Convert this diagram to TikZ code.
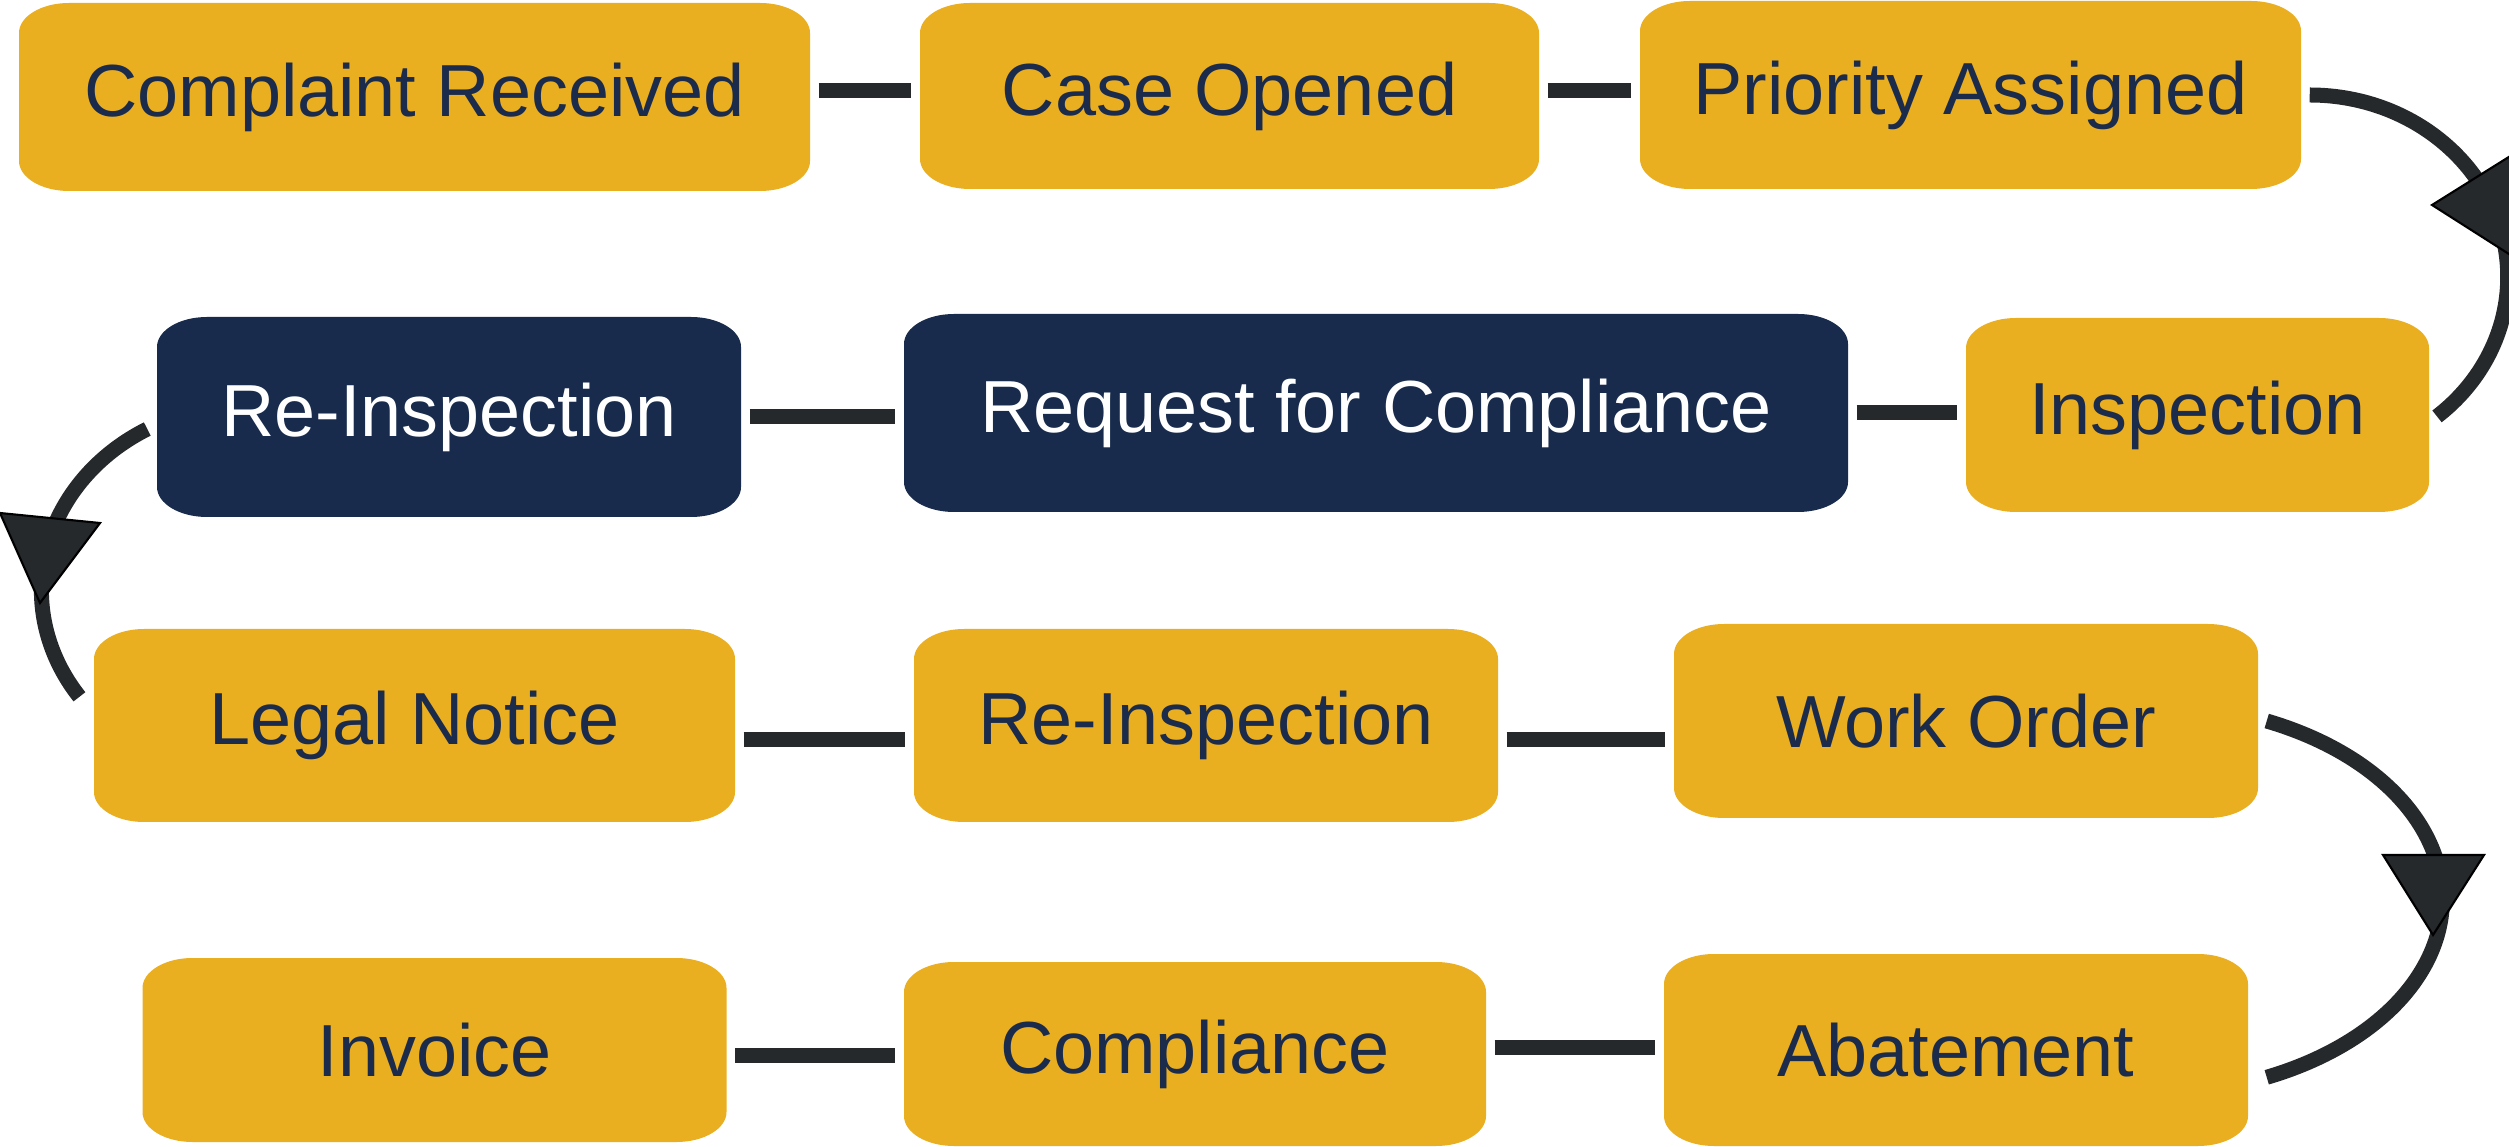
\documentclass[tikz,border=0pt]{standalone}
\usepackage{fontspec}
\setmainfont{Liberation Sans}
\definecolor{gold}{HTML}{EAAE21}
\definecolor{navy}{HTML}{182B4C}
\definecolor{ink}{HTML}{1B2B4B}
\definecolor{linegray}{HTML}{25292C}
\tikzset{
  pill/.style={inner sep=0pt, font=\fontsize{21}{25}\selectfont,
    path picture={\fill[#1] ([xshift=5mm]path picture bounding box.south west) -- ([xshift=-5mm]path picture bounding box.south east)
      arc[start angle=-90,end angle=0,x radius=5mm,y radius=3mm] -- ([yshift=-3mm]path picture bounding box.north east)
      arc[start angle=0,end angle=90,x radius=5mm,y radius=3mm] -- ([xshift=5mm]path picture bounding box.north west)
      arc[start angle=90,end angle=180,x radius=5mm,y radius=3mm] -- ([yshift=3mm]path picture bounding box.south west)
      arc[start angle=180,end angle=270,x radius=5mm,y radius=3mm] -- cycle;}},
  stage/.style={pill=gold, text=ink},
  keystage/.style={pill=navy, text=white},
  link/.style={draw=linegray, line width=0.15cm, shorten <=0.08cm, shorten >=0.08cm},
  flow/.style={draw=linegray, line width=0.15cm},
  tipmark/.style={fill=linegray, draw=black, line width=0.6pt, line join=miter}
}
\begin{document}
\begin{tikzpicture}[line join=round]
	\useasboundingbox (0,0) rectangle (25.09,-11.47);
	% row 1
	\node[stage, minimum width=7.91cm, minimum height=1.88cm] (cr) at (4.145,-0.97) {Complaint Received};
	\node[stage, minimum width=6.19cm, minimum height=1.86cm] (co) at (12.295,-0.96) {Case Opened};
	\node[stage, minimum width=6.61cm, minimum height=1.88cm] (pa) at (19.705,-0.95) {Priority Assigned};
	% row 2
	\node[keystage, minimum width=5.84cm, minimum height=2.00cm] (rin) at (4.49,-4.17) {Re-Inspection};
	\node[keystage, minimum width=9.44cm, minimum height=1.98cm] (rfc) at (13.76,-4.13) {Request for Compliance};
	\node[stage, minimum width=4.63cm, minimum height=1.94cm] (insp) at (21.975,-4.15) {Inspection};
	% row 3
	\node[stage, minimum width=6.41cm, minimum height=1.93cm] (ln) at (4.145,-7.255) {Legal Notice};
	\node[stage, minimum width=5.84cm, minimum height=1.93cm] (rin2) at (12.06,-7.255) {Re-Inspection};
	\node[stage, minimum width=5.84cm, minimum height=1.94cm] (wo) at (19.66,-7.21) {Work Order};
	% row 4
	\node[stage, minimum width=5.84cm, minimum height=1.84cm] (inv) at (4.345,-10.50) {Invoice};
	\node[stage, minimum width=5.82cm, minimum height=1.84cm] (comp) at (11.95,-10.54) {Compliance};
	\node[stage, minimum width=5.84cm, minimum height=1.92cm] (ab) at (19.56,-10.50) {Abatement};
	% straight links
	\draw[link] ([yshift=0.06cm]cr.east) -- ([yshift=0.06cm]cr.east -| co.west);
	\draw[link] ([yshift=0.05cm]co.east) -- ([yshift=0.05cm]co.east -| pa.west);
	\draw[link] (rin.east) -- (rin.east -| rfc.west);
	\draw[link] (rfc.east) -- (rfc.east -| insp.west);
	\draw[link] ([yshift=-0.14cm]ln.east) -- ([yshift=-0.14cm]ln.east -| rin2.west);
	\draw[link] ([yshift=-0.14cm]rin2.east) -- ([yshift=-0.14cm]rin2.east -| wo.west);
	\draw[link] ([yshift=-0.055cm]inv.east) -- ([yshift=-0.055cm]inv.east -| comp.west);
	\draw[link] ([yshift=0.07cm]comp.east) -- ([yshift=0.07cm]comp.east -| ab.west);
	% bends between rows
	\draw[flow] ([xshift=0.08cm]pa.east) arc[start angle=90,end angle=-50,x radius=1.98,y radius=1.82];
	\draw[flow] ([xshift=-0.09cm,yshift=-0.12cm]rin.west) arc[start angle=119.4,end angle=215.2,x radius=2.08,y radius=1.85];
	\draw[flow] ([xshift=0.08cm]wo.east) arc[start angle=66,end angle=-66,x radius=2.96,y radius=1.95];
	\fill[tipmark] (24.32,-2.05) -- (25.12,-1.55) -- (25.12,-2.56) -- cycle;
	\fill[tipmark] (0,-5.13) -- (1.00,-5.23) -- (0.40,-6.03) -- cycle;
	\fill[tipmark] (23.83,-8.55) -- (24.84,-8.55) -- (24.33,-9.35) -- cycle;
\end{tikzpicture}
\end{document}
